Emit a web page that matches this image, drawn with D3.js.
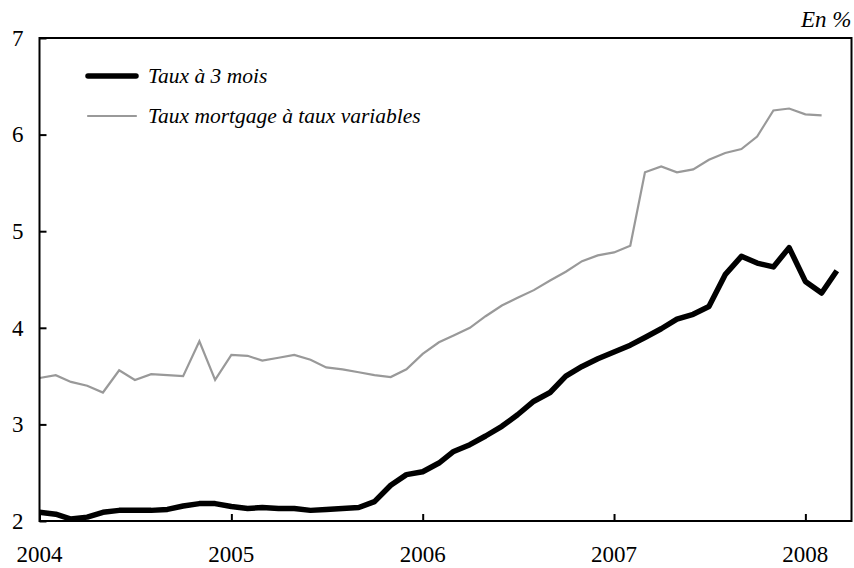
<!DOCTYPE html>
<html><head><meta charset="utf-8">
<script src="https://cdn.jsdelivr.net/npm/d3@7"></script>
<style>
body{margin:0;background:#fff}
svg{display:block}
text{font-family:"Liberation Serif","Times New Roman",serif;fill:#000}
</style>
</head><body>
<svg id="c" width="854" height="568"></svg>
<script>
// ---- data ----
const firstMonth = "2004-01";
const lastMonth3m = "2008-03";
const lastMonthMortgage = "2008-02";
const taux3m = [2.09,2.07,2.02,2.04,2.09,2.11,2.11,2.11,2.12,2.155,2.18,2.18,
  2.15,2.13,2.14,2.13,2.13,2.11,2.12,2.13,2.14,2.20,2.37,2.48,
  2.51,2.60,2.72,2.79,2.88,2.98,3.10,3.24,3.33,3.50,3.60,3.68,
  3.75,3.82,3.90,3.99,4.09,4.14,4.22,4.55,4.74,4.67,4.63,4.83,
  4.48,4.36,4.59];
const mortgage = [3.48,3.51,3.44,3.40,3.33,3.56,3.46,3.52,3.51,3.50,3.86,3.46,
  3.72,3.71,3.66,3.69,3.72,3.67,3.59,3.57,3.54,3.51,3.49,3.57,
  3.73,3.85,3.92,4.00,4.12,4.23,4.31,4.39,4.49,4.58,4.69,4.75,
  4.78,4.85,5.61,5.67,5.61,5.64,5.74,5.81,5.85,5.98,6.25,6.27,
  6.21,6.20];
const yTickValues = [2,3,4,5,6,7];
const yearLabels = ["2004","2005","2006","2007","2008"];
const seriesNames = ["Taux à 3 mois","Taux mortgage à taux variables"];
const unitLabel = "En %";
const axisStart = "2004-01-01";
const axisEnd = "2008-03-29";

// ---- layout ----
const L = 39.5, R = 851.5, T = 38, B = 521;
const svg = d3.select("#c");
const parseM = d3.timeParse("%Y-%m");
const parseD = d3.timeParse("%Y-%m-%d");
const months3m = d3.timeMonth.range(parseM(firstMonth), d3.timeMonth.offset(parseM(lastMonth3m),1));
const monthsMort = d3.timeMonth.range(parseM(firstMonth), d3.timeMonth.offset(parseM(lastMonthMortgage),1));

const x = d3.scaleTime().domain([parseD(axisStart), parseD(axisEnd)]).range([L, R]);
const y = d3.scaleLinear().domain([2,7]).range([B, T]);

const line = d3.line().x(d => x(d[0])).y(d => y(d[1]));

// series
svg.append("path")
  .attr("d", line(monthsMort.map((m,i)=>[m, mortgage[i]])))
  .attr("fill","none").attr("stroke","#999").attr("stroke-width",2.2)
  .attr("stroke-linejoin","miter");
svg.append("path")
  .attr("d", line(months3m.map((m,i)=>[m, taux3m[i]])))
  .attr("fill","none").attr("stroke","#000").attr("stroke-width",5.5)
  .attr("stroke-linejoin","round");

// frame
svg.append("rect").attr("x",L).attr("y",T).attr("width",R-L).attr("height",B-T)
  .attr("fill","none").attr("stroke","#000").attr("stroke-width",2);

// y axis (ticks inward)
const yAxis = d3.axisRight(y).tickValues(yTickValues).tickSize(7).tickFormat("");
const gy = svg.append("g").attr("transform",`translate(${L},0)`).call(yAxis);
gy.select(".domain").remove();
gy.selectAll(".tick line").attr("stroke","#000").attr("stroke-width",2);
svg.append("g").selectAll("text").data(yTickValues).join("text")
  .attr("x", L-16).attr("y", d=>y(d)).attr("dy","0.34em")
  .attr("text-anchor","end").attr("font-size",23).text(d=>d);

// x axis (ticks upward)
const yearDates = yearLabels.map(s => d3.timeParse("%Y")(s));
const xAxis = d3.axisTop(x).tickValues(yearDates).tickSize(7).tickFormat("");
const gx = svg.append("g").attr("transform",`translate(0,${B})`).call(xAxis);
gx.select(".domain").remove();
gx.selectAll(".tick line").attr("stroke","#000").attr("stroke-width",2);
svg.append("g").selectAll("text").data(yearLabels).join("text")
  .attr("x", (d,i)=>x(yearDates[i])).attr("y", 562)
  .attr("text-anchor","middle").attr("font-size",23).text(d=>d);

// unit label
svg.append("text").attr("x",R).attr("y",27).attr("text-anchor","end")
  .attr("font-size",23).attr("font-style","italic").text(unitLabel);

// legend
const leg = svg.append("g");
const legStyles = [{c:"#000",w:5.5},{c:"#999",w:2.2}];
seriesNames.forEach((n,i)=>{
  const yy = 76 + i*40;
  leg.append("line").attr("x1",88).attr("x2",136).attr("y1",yy).attr("y2",yy)
    .attr("stroke",legStyles[i].c).attr("stroke-width",legStyles[i].w).attr("stroke-linecap","round");
  leg.append("text").attr("x",148).attr("y",yy+7).attr("font-size",21.5)
    .attr("font-style","italic").text(n);
});
</script>
</body></html>
